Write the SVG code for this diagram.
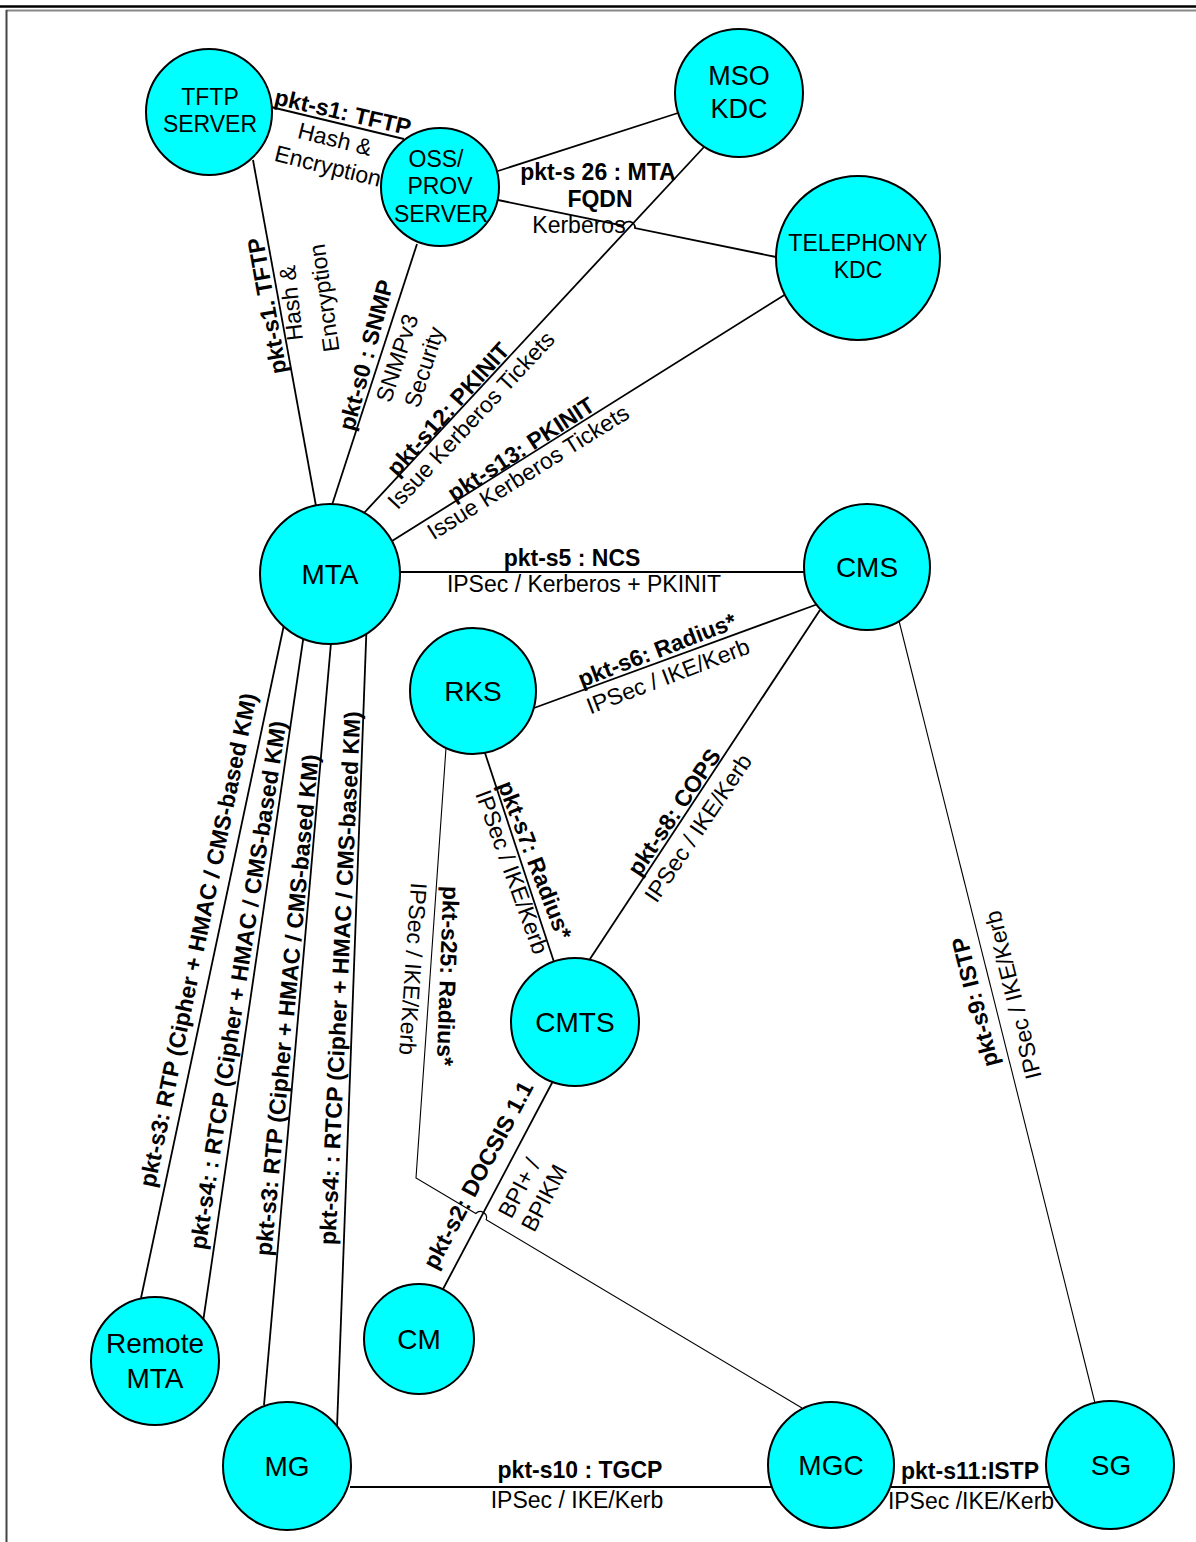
<svg xmlns="http://www.w3.org/2000/svg" width="1196" height="1542" viewBox="0 0 1196 1542">
<style>
.node circle{fill:#00FFFF;stroke:#000;stroke-width:2}
.nt{font-family:"Liberation Sans",Arial,sans-serif;font-size:28px;text-anchor:middle;fill:#000}
.ns{font-size:23px}
.nm{font-size:27px}
.lb{font-family:"Liberation Sans",Arial,sans-serif;font-size:23px;font-weight:bold;text-anchor:middle;fill:#000}
.lr{font-family:"Liberation Sans",Arial,sans-serif;font-size:23px;text-anchor:middle;fill:#000}
.e{stroke:#000;stroke-width:1.8;fill:none}
.thin{stroke-width:1.1}
</style>
<rect width="1196" height="1542" fill="#fff"/>
<g id="frame">
<line x1="0" y1="6.5" x2="1196" y2="6.5" stroke="#000" stroke-width="2.5"/>
<line x1="6" y1="10.5" x2="1196" y2="10.5" stroke="#888" stroke-width="2"/>
<line x1="6.5" y1="10" x2="6.5" y2="1542" stroke="#444" stroke-width="2"/>
</g>
<g id="connectors">
<line class="e" x1="271" y1="107" x2="404" y2="139"/>
<line class="e" x1="253" y1="160" x2="316" y2="506"/>
<line class="e" x1="417" y1="244" x2="332" y2="505"/>
<line class="e" x1="498" y1="171" x2="678" y2="113"/>
<path class="e" d="M498,200 L623,225.6 A6.2,6.2 0 0 1 635,228.1 L776,257"/>
<line class="e" x1="364" y1="513" x2="704" y2="147"/>
<line class="e" x1="392" y1="541" x2="786" y2="294"/>
<line class="e" x1="400" y1="572" x2="805" y2="572"/>
<line class="e" x1="534" y1="708" x2="818" y2="604"/>
<line class="e" x1="820" y1="610" x2="588" y2="962"/>
<line class="e" x1="485" y1="753" x2="554" y2="962"/>
<path class="e thin" d="M446,748 L416,1178 L475.8,1213.5 A6.2,6.2 0 0 1 486.2,1219.7 L802,1408"/>
<line class="e" x1="553" y1="1081" x2="442" y2="1291"/>
<line class="e" x1="285" y1="620" x2="141" y2="1298"/>
<line class="e" x1="306" y1="620" x2="203" y2="1322"/>
<line class="e" x1="333" y1="620" x2="264" y2="1405"/>
<line class="e" x1="367" y1="615" x2="337" y2="1428"/>
<line class="e thin" x1="899" y1="621" x2="1095" y2="1403"/>
<line class="e" x1="350" y1="1487" x2="773" y2="1487"/>
<line class="e" x1="889" y1="1487" x2="1051" y2="1487"/>
</g>
<g id="labels">
<text class="lb" transform="translate(343,112) rotate(13)" y="8">pkt-s1: TFTP</text>
<text class="lr" transform="translate(335,139) rotate(14)" y="8">Hash &amp;</text>
<text class="lr" transform="translate(328,166) rotate(14)" y="8">Encryption</text>
<text class="lb" transform="translate(267,306) rotate(-100)" y="8">pkt-s1. TFTP</text>
<text class="lr" transform="translate(291,303) rotate(-96)" y="8">Hash &amp;</text>
<text class="lr" transform="translate(324,298) rotate(-98)" y="8">Encryption</text>
<text class="lb" transform="translate(366,355) rotate(-75)" y="8">pkt-s0 : SNMP</text>
<text class="lr" transform="translate(397,358) rotate(-72)" y="8">SNMPv3</text>
<text class="lr" transform="translate(424,367) rotate(-72)" y="8">Security</text>
<text class="lb" x="598" y="180">pkt-s 26 : MTA</text>
<text class="lb" x="600" y="207">FQDN</text>
<text class="lr" x="579" y="233">Kerberos</text>
<text class="lb" transform="translate(448,409) rotate(-48)" y="8">pkt-s12: PKINIT</text>
<text class="lr" transform="translate(471,420) rotate(-47)" y="8">Issue Kerberos Tickets</text>
<text class="lb" transform="translate(521,449) rotate(-33)" y="8">pkt-s13: PKINIT</text>
<text class="lr" transform="translate(528,472) rotate(-32)" y="8">Issue Kerberos Tickets</text>
<text class="lb" x="572" y="566">pkt-s5 : NCS</text>
<text class="lr" x="584" y="592">IPSec / Kerberos + PKINIT</text>
<text class="lb" transform="translate(657,650) rotate(-21)" y="8">pkt-s6: Radius*</text>
<text class="lr" transform="translate(668,676) rotate(-21)" y="8">IPSec / IKE/Kerb</text>
<text class="lb" transform="translate(674,812) rotate(-56)" y="8">pkt-s8: COPS</text>
<text class="lr" transform="translate(698,828) rotate(-56)" y="8">IPSec / IKE/Kerb</text>
<text class="lb" transform="translate(535,860) rotate(69)" y="8">pkt-s7: Radius*</text>
<text class="lr" transform="translate(512,872) rotate(70)" y="8">IPSec / IKE/Kerb</text>
<text class="lb" transform="translate(448,976) rotate(92)" y="8">pkt-s25: Radius*</text>
<text class="lr" transform="translate(413,969) rotate(94)" y="8">IPSec / IKE/Kerb</text>
<text class="lb" transform="translate(478,1175) rotate(-62)" y="8">pkt-s2: DOCSIS 1.1</text>
<text class="lr" transform="translate(519,1188) rotate(-62)" y="8">BPI+ /</text>
<text class="lr" transform="translate(544,1198) rotate(-62)" y="8">BPIKM</text>
<text class="lb" transform="translate(198,940) rotate(-78.3)" y="8">pkt-s3: RTP (Cipher + HMAC /  CMS-based  KM)</text>
<text class="lb" transform="translate(238,985) rotate(-81.3)" y="8">pkt-s4: : RTCP (Cipher + HMAC / CMS-based KM)</text>
<text class="lb" transform="translate(287,1005) rotate(-84.6)" y="8">pkt-s3: RTP (Cipher + HMAC /  CMS-based  KM)</text>
<text class="lb" transform="translate(340,978) rotate(-87.3)" y="8">pkt-s4: : RTCP (Cipher + HMAC / CMS-based KM)</text>
<text class="lb" transform="translate(975,1002) rotate(-104)" y="8">pkt-s9: ISTP</text>
<text class="lr" transform="translate(1013,995) rotate(-104)" y="8">IPSec / IKE/Kerb</text>
<text class="lb" x="580" y="1478">pkt-s10 : TGCP</text>
<text class="lr" x="577" y="1508">IPSec / IKE/Kerb</text>
<text class="lb" x="970" y="1479">pkt-s11:ISTP</text>
<text class="lr" x="971" y="1509">IPSec /IKE/Kerb</text>
</g>
<g id="tftp" class="node"><circle cx="209" cy="112" r="63"/><text class="nt ns" x="210" y="105">TFTP</text><text class="nt ns" x="210" y="132">SERVER</text></g>
<g id="oss" class="node"><circle cx="440" cy="187" r="59"/><text class="nt ns" x="436" y="167">OSS/</text><text class="nt ns" x="440" y="194">PROV</text><text class="nt ns" x="441" y="222">SERVER</text></g>
<g id="msokdc" class="node"><circle cx="739" cy="93" r="64"/><text class="nt nm" x="739" y="85">MSO</text><text class="nt nm" x="739" y="118">KDC</text></g>
<g id="telkdc" class="node"><circle cx="858" cy="258" r="82"/><text class="nt ns" x="858" y="251">TELEPHONY</text><text class="nt ns" x="858" y="278">KDC</text></g>
<g id="mta" class="node"><circle cx="330" cy="574" r="70"/><text class="nt" x="330" y="584">MTA</text></g>
<g id="cms" class="node"><circle cx="867" cy="567" r="63"/><text class="nt" x="867" y="577">CMS</text></g>
<g id="rks" class="node"><circle cx="473" cy="691" r="63"/><text class="nt" x="473" y="701">RKS</text></g>
<g id="cmts" class="node"><circle cx="575" cy="1022" r="64"/><text class="nt" x="575" y="1032">CMTS</text></g>
<g id="cm" class="node"><circle cx="419" cy="1339" r="55"/><text class="nt" x="419" y="1349">CM</text></g>
<g id="remotemta" class="node"><circle cx="155" cy="1361" r="64"/><text class="nt" x="155" y="1353">Remote</text><text class="nt" x="155" y="1388">MTA</text></g>
<g id="mg" class="node"><circle cx="287" cy="1466" r="64"/><text class="nt" x="287" y="1476">MG</text></g>
<g id="mgc" class="node"><circle cx="831" cy="1465" r="63"/><text class="nt" x="831" y="1475">MGC</text></g>
<g id="sg" class="node"><circle cx="1110" cy="1465" r="64"/><text class="nt" x="1111" y="1475">SG</text></g>
</svg>
